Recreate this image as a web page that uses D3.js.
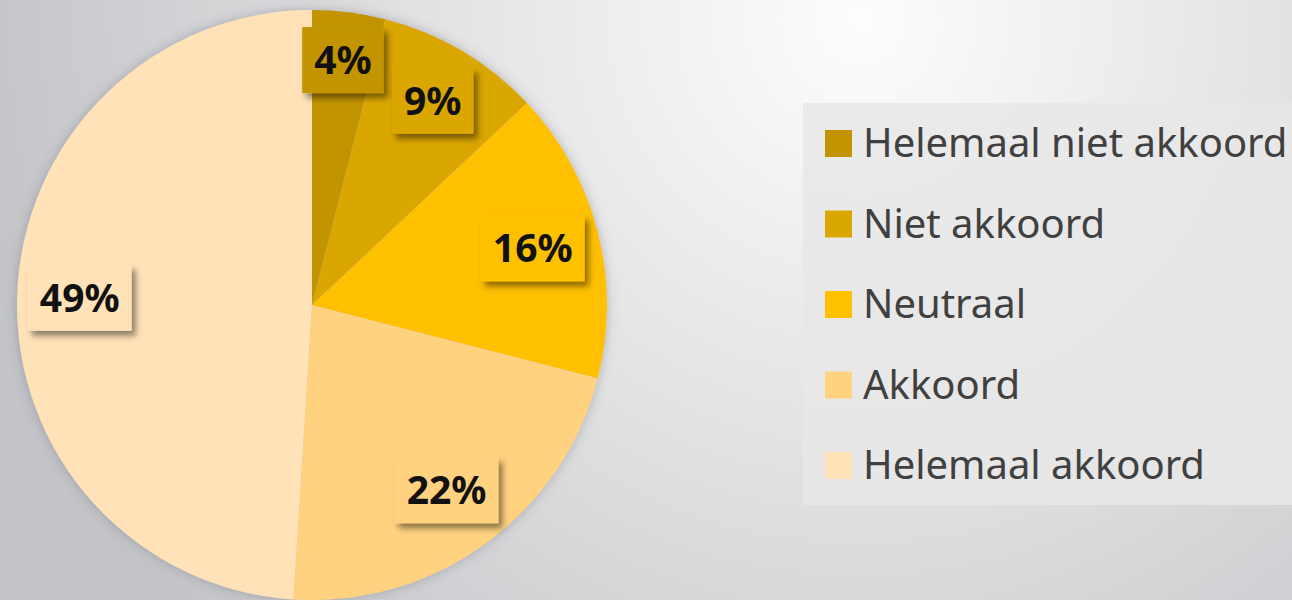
<!DOCTYPE html>
<html>
<head>
<meta charset="utf-8">
<script src="https://cdn.jsdelivr.net/npm/d3@7"></script>
<style>
	html, body { margin: 0; padding: 0; overflow: hidden; }
	svg { display: block; }
</style>
</head>
<body>
<script>
var categories = ["Helemaal niet akkoord", "Niet akkoord", "Neutraal", "Akkoord", "Helemaal akkoord"];
var values = [4, 9, 16, 22, 49];
var colors = ["#c29400", "#daa600", "#ffc000", "#ffd27f", "#ffe2b8"];

(function() {
	var width = 1292,
		height = 600,
		cx = 312,
		cy = 305,
		radius = 295;

	var svg = d3.select("body").append("svg")
		.attr("width", width)
		.attr("height", height);

	var defs = svg.append("defs");
	var bg = defs.append("radialGradient")
		.attr("id", "bg")
		.attr("gradientUnits", "userSpaceOnUse")
		.attr("cx", 860).attr("cy", 20).attr("r", 900);
	bg.append("stop").attr("offset", "0").attr("stop-color", "#fdfdfd");
	bg.append("stop").attr("offset", "0.45").attr("stop-color", "#e4e4e4");
	bg.append("stop").attr("offset", "1").attr("stop-color", "#c2c4c8");

	var shadow = defs.append("filter").attr("id", "shadow")
		.attr("x", "-30%").attr("y", "-30%").attr("width", "160%").attr("height", "160%");
	shadow.append("feDropShadow")
		.attr("dx", 4).attr("dy", 5).attr("stdDeviation", 3)
		.attr("flood-color", "#000").attr("flood-opacity", 0.45);

	var pieShadow = defs.append("filter").attr("id", "pieShadow")
		.attr("x", "-10%").attr("y", "-10%").attr("width", "120%").attr("height", "120%");
	pieShadow.append("feDropShadow")
		.attr("dx", 0).attr("dy", 0).attr("stdDeviation", 6)
		.attr("flood-color", "#556").attr("flood-opacity", 0.35);

	svg.append("rect")
		.attr("width", width)
		.attr("height", height)
		.attr("fill", "url(#bg)");

	var color = d3.scaleOrdinal().domain(categories).range(colors);

	var pie = d3.pie().sort(null).value(function(d) { return d.value; });
	var data = categories.map(function(c, i) { return {name: c, value: values[i]}; });
	var arcs = pie(data);
	var arc = d3.arc().innerRadius(0).outerRadius(radius);

	var chart = svg.append("g")
		.attr("transform", "translate(" + cx + "," + cy + ")");

	chart.append("g")
		.attr("filter", "url(#pieShadow)")
		.selectAll("path")
		.data(arcs)
		.enter()
		.append("path")
		.attr("d", arc)
		.attr("fill", function(d) { return color(d.data.name); });

	// data labels, placed "inside end"
	var total = d3.sum(values);
	var labels = chart.selectAll("g.label")
		.data(arcs)
		.enter()
		.append("g")
		.classed("label", true);

	labels.each(function(d) {
		var g = d3.select(this),
			txt = Math.round(d.value / total * 100) + "%";
		var rect = g.append("rect").attr("fill", color(d.data.name)).attr("filter", "url(#shadow)");
		var t = g.append("text")
			.text(txt)
			.attr("text-anchor", "middle")
			.attr("dy", "0.36em")
			.style("font-family", "'Noto Sans', sans-serif")
			.style("font-weight", "bold")
			.style("font-size", "39px")
			.attr("fill", "#111");
		var w = t.node().getComputedTextLength() + 24,
			h = 66,
			a = (d.startAngle + d.endAngle) / 2,
			ux = Math.sin(a),
			uy = -Math.cos(a),
			hw = w / 2 * (ux < 0 ? -1 : 1),
			hh = h / 2 * (uy < 0 ? -1 : 1),
			lim = radius - 8,
			bx = ux * hw + uy * hh,
			c = hw * hw + hh * hh - lim * lim,
			dist = -bx + Math.sqrt(bx * bx - c);
		rect.attr("x", -w / 2).attr("y", -h / 2).attr("width", w).attr("height", h);
		g.attr("transform", "translate(" + (ux * dist) + "," + (uy * dist) + ")");
	});

	// legend
	var legend = svg.append("g");
	legend.append("rect")
		.attr("x", 803).attr("y", 103)
		.attr("width", width - 803).attr("height", 402)
		.attr("fill", "#e8e8e8")
		.attr("fill-opacity", 0.85);

	var ly = d3.scalePoint().domain(categories).range([143, 465]);

	var items = legend.selectAll("g.item")
		.data(categories)
		.enter()
		.append("g")
		.classed("item", true)
		.attr("transform", function(d) { return "translate(825," + ly(d) + ")"; });
	items.append("rect")
		.attr("x", 0).attr("y", -13)
		.attr("width", 27).attr("height", 27)
		.attr("fill", function(d) { return color(d); });
	items.append("text")
		.attr("x", 38)
		.attr("dy", "0.36em")
		.text(function(d) { return d; })
		.style("font-family", "'Noto Sans', sans-serif")
		.style("font-size", "40px")
		.attr("fill", "#404040");
}());
</script>
</body>
</html>
